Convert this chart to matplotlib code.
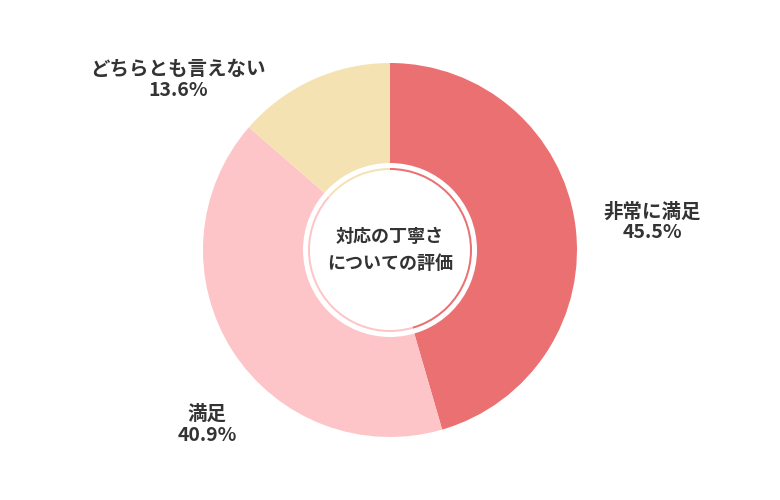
import matplotlib
matplotlib.use("Agg")
import matplotlib.pyplot as plt
from matplotlib.patches import Circle, Wedge

plt.rcParams['font.family'] = ['Noto Sans CJK JP', 'DejaVu Sans']

labels = ["非常に満足", "満足", "どちらとも言えない"]
values = [45.5, 40.9, 13.6]
colors = ["#EB7072", "#FDC5C7", "#F5E2B3"]
label_pos = [(652, 222), (207, 425), (178, 80)]

fig = plt.figure(figsize=(7.8, 5), dpi=100)
ax = fig.add_axes([0, 0, 1, 1])

cx, cy, R = 390, 250, 187
ax.pie(values, colors=colors, startangle=90, counterclock=False,
       center=(cx, cy), radius=R, wedgeprops=dict(linewidth=0),
       frame=False)
ax.set_xlim(0, 780)
ax.set_ylim(0, 500)
ax.set_aspect('equal')
ax.axis('off')
ax.add_patch(Wedge((cx, cy), 87, 0, 360, width=5, facecolor='white', edgecolor='none'))
ax.add_patch(Circle((cx, cy), 80, facecolor='white', edgecolor='none'))

ax.text(cx, cy, "対応の丁寧さ\nについての評価", ha='center', va='center',
        fontsize=13, fontweight='bold', color='#333333', linespacing=1.5)

for lab, v, (x, y) in zip(labels, values, label_pos):
    ax.text(x, 500 - y, f"{lab}\n{v}%", ha='center', va='center', fontsize=14,
            fontweight='bold', color='#333333', linespacing=1.1)

fig.savefig("out.png", dpi=100)
